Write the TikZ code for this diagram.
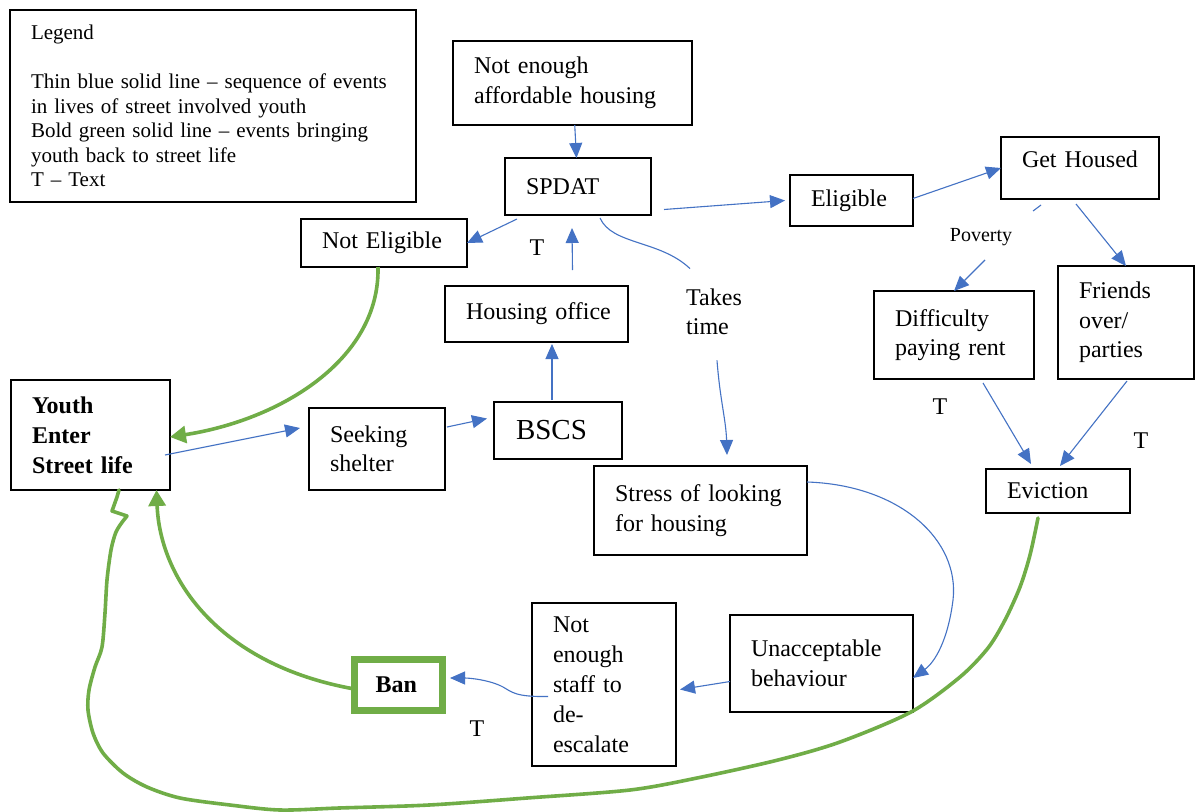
\documentclass[tikz,border=0pt]{standalone}
\usepackage{fontspec}
\setmainfont{Liberation Serif}
\usetikzlibrary{arrows.meta,calc}
\definecolor{ablue}{HTML}{4472C4}
\definecolor{agreen}{HTML}{70AD47}
\begin{document}
\begin{tikzpicture}[x=1pt,y=-1pt,
  box/.style={draw=black, line width=2.6pt, anchor=north west, outer sep=0pt, inner xsep=21pt, inner ysep=0pt, align=left, font=\fontsize{24}{29.5}\selectfont},
  bl/.style={draw=ablue, line width=1.1pt},
  ba/.style={bl, -{Triangle[length=15pt,width=13pt]}},
  ga/.style={draw=agreen, line width=3.6pt, -{Triangle[length=16pt,width=17pt]}},
  gl/.style={draw=agreen, line width=3.6pt, line cap=round, line join=round},
  lbl/.style={inner sep=0pt, font=\fontsize{24}{29.5}\selectfont, align=left}
]
\path[fill=white, use as bounding box] (0,0) rectangle (1196,811);

% boxes
\node[box, minimum width=406pt, minimum height=192pt, text width=364pt, font=\fontsize{21}{24.6}\selectfont] (legend) at (10,10)
  {Legend\\[24.6pt]Thin blue solid line – sequence of events\\in lives of street involved youth\\Bold green solid line – events bringing\\youth back to street life\\T – Text};
\node[box, minimum width=239pt, minimum height=84pt, text width=197pt] (naff) at (453,41) {Not enough\\\mbox{affordable housing}};
\node[box, minimum width=146pt, minimum height=57pt, text width=104pt] (spdat) at (505,158) {SPDAT};
\node[box, minimum width=123pt, minimum height=51pt, text width=81pt] (elig) at (790,175) {Eligible};
\node[box, minimum width=158pt, minimum height=62pt, text width=116pt, text depth=17pt] (gh) at (1001,137) {\mbox{Get Housed}};
\node[box, minimum width=166pt, minimum height=48pt, text width=124pt] (nelig) at (301,219) {\mbox{Not Eligible}};
\node[box, minimum width=183pt, minimum height=56pt, text width=141pt] (hous) at (445,286) {\mbox{Housing office}};
\node[box, minimum width=160pt, minimum height=88pt, text width=118pt] (diff) at (874,291) {Difficulty\\\mbox{paying rent}};
\node[box, minimum width=136pt, minimum height=113pt, text width=94pt] (fri) at (1058,266) {Friends\\over/\\parties};
\node[box, minimum width=159pt, minimum height=110pt, text width=117pt, font=\bfseries\fontsize{24}{30}\selectfont] (youth) at (11,380) {Youth\\Enter\\\mbox{Street life}};
\node[box, minimum width=136pt, minimum height=82pt, text width=94pt] (seek) at (309,408) {Seeking\\shelter};
\node[box, minimum width=126pt, minimum height=57pt, text width=84pt, inner xsep=22pt, font=\fontsize{29}{35}\selectfont] (bscs) at (494,402) {BSCS};
\node[box, minimum width=213pt, minimum height=89pt, text width=171pt] (stress) at (594,466) {\mbox{Stress of looking}\\for housing};
\node[box, minimum width=144pt, minimum height=44pt, text width=102pt] (evic) at (986,469) {Eviction};
\node[box, minimum width=144pt, minimum height=163pt, text width=102pt, font=\fontsize{24}{30}\selectfont] (staff) at (532,603) {Not\\enough\\staff to\\de-\\escalate};
\node[box, minimum width=183pt, minimum height=97pt, text width=141pt] (unacc) at (730,615) {Unacceptable\\behaviour};
\node[box, draw=agreen, line width=7pt, minimum width=88pt, minimum height=51pt, text width=46pt, font=\bfseries\fontsize{24}{29}\selectfont] (ban) at (354.5,659.5) {Ban};

% free labels
\node[lbl] (t1) at (537,248) {T};
\node[lbl] (t2) at (940,407) {T};
\node[lbl] (t3) at (1141,441) {T};
\node[lbl] (t4) at (477,729) {T};
\node[lbl, anchor=west] (takes) at (686,312) {Takes\\time};
\node[lbl, font=\fontsize{20}{24}\selectfont] (pov) at (981,237) {Poverty};

% blue connectors
\draw[ba] (naff) -- (spdat);
\draw[ba] ([xshift=12pt,yshift=-4pt]spdat.south west) -- (nelig.east);
\draw[ba] ([xshift=36pt,yshift=16pt]hous.north) -- ([xshift=-6pt,yshift=-13pt]spdat.south);
\draw[ba] ([xshift=-6pt,yshift=2pt]bscs.north) -- ([xshift=-6pt,yshift=-2pt]bscs.north |- hous.south);
\draw[ba] ([xshift=2pt,yshift=22pt]seek.east) -- ([xshift=-7pt,yshift=12pt]bscs.west);
\draw[ba] ([xshift=-5pt,yshift=-20pt]youth.east) -- ([xshift=-9pt,yshift=21pt]seek.west);
\draw[ba] ([xshift=13pt,yshift=-23pt]spdat.east) -- ([xshift=-5pt]elig.west);
\draw[ba] ([yshift=2pt]elig.east) -- (gh.west);
\draw[bl] ([xshift=-39pt,yshift=-6pt]gh.south) -- ([xshift=-47pt,yshift=-12pt]gh.south);
\draw[ba] ([xshift=4pt,yshift=-23pt]pov.center) -- (diff.north);
\draw[ba] ([xshift=-4pt,yshift=-5pt]gh.south) -- (fri.north);
\draw[ba] ([xshift=29pt,yshift=-4pt]diff.south) -- ([xshift=-27pt,yshift=5pt]evic.north);
\draw[ba] ([xshift=1pt,yshift=-2pt]fri.south) -- ([xshift=2pt,yshift=3pt]evic.north);
\draw[bl] ([xshift=22pt,yshift=-3pt]spdat.south) .. controls (612,245) and (660,240) .. ([xshift=4pt,yshift=20pt]takes.north west);
\draw[ba] ([xshift=31pt,yshift=-25pt]takes.south west) .. controls (720,400) and (726,420) .. ([xshift=26.5pt,yshift=11pt]stress.north);
\draw[ba] ([yshift=-16pt]stress.north east) .. controls (900,485) and (960,540) .. (953,600) .. controls (948,640) and (935,662) .. ([yshift=-14.5pt]unacc.east);
\draw[ba] ([yshift=-18pt]unacc.west) -- ([xshift=4pt,yshift=-5pt]staff.east);
\draw[ba] ([xshift=16pt,yshift=-12pt]staff.west) .. controls (515,697) and (512,692) .. (503,687) .. controls (490,680) and (470,678) .. ([xshift=7.5pt,yshift=7pt]ban.east);

% green connectors
\draw[ga] ([xshift=-6pt]nelig.south) .. controls (380,360) and (280,420) .. ([yshift=-2pt]youth.east);
\draw[ga] ([yshift=-4pt]ban.west) .. controls (220,665) and (160,580) .. ([xshift=66pt]youth.south);
\coordinate (ev0) at ([xshift=-20pt,yshift=-5pt]evic.south);
\coordinate (youthb) at ([xshift=28.5pt]youth.south);
\draw[gl] plot[smooth, tension=0.5] coordinates {(ev0) (1030,555) (1020,587) (1005,620) (988,648) (960,677) (911,712) (840,742) (778,760) (697,778) (630,790) (527,798) (429,805) (339,808) (280,810) (230,805) (180,798) (147,787) (123,773) (103,753) (93,733) (88,710) (89,690) (95,667) (102,647) (105,613) (107,580) (111,550) (116,532) (123,521)} -- (127,516) -- (112,511) -- (117,497) -- (youthb);
\end{tikzpicture}
\end{document}
